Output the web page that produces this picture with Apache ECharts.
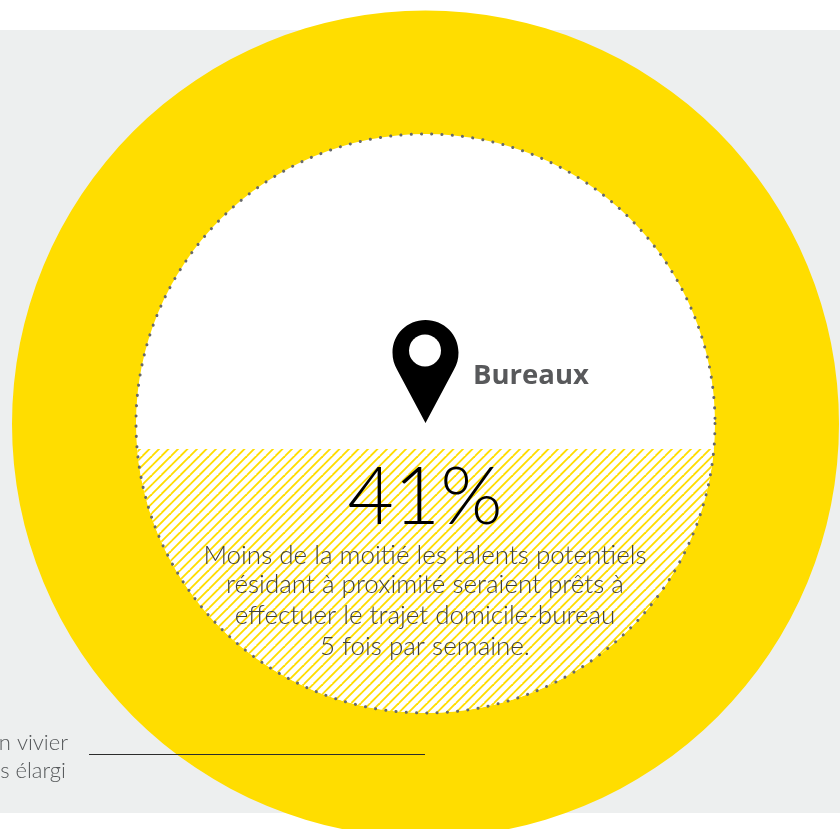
<!DOCTYPE html>
<html><head><meta charset="utf-8">
<style>html,body{margin:0;padding:0;background:#fff;overflow:hidden}#c{width:840px;height:829px}</style>
<script src="https://cdn.jsdelivr.net/npm/echarts@6/dist/echarts.min.js"></script>
</head><body><div id="c"></div>
<script>
const ringValues = [100];
const shareValue = [41];
const centerLabel = ['Bureaux'];
const bodyLines = ['Moins de la moitié les talents potentiels','résidant à proximité seraient prêts à','effectuer le trajet domicile-bureau','5 fois par semaine.'];
const sideLines = ['n vivier','s élargi'];

function hatch(){
  const s=19, c=document.createElement('canvas'); c.width=c.height=s;
  const g=c.getContext('2d'); g.fillStyle='#fff'; g.fillRect(0,0,s,s);
  g.strokeStyle='#ffdd00'; g.lineWidth=1.9;
  for(let k=-1;k<=4;k++){const o=k*s/2;g.beginPath();g.moveTo(o-s,s);g.lineTo(o+s,-s+0);g.stroke();}
  return c;
}
const pattern={image:hatch(),repeat:'repeat'};
const cx=425.5, cy=423.5, r=289.5, chordY=449;
const dx=Math.sqrt(r*r-(chordY-cy)*(chordY-cy));
const font='Lato, "Open Sans", sans-serif';
const chart=echarts.init(document.getElementById('c'),null,{renderer:'canvas'});
chart.setOption({
  animation:false,
  backgroundColor:'#fff',
  series:[
   {type:'pie',silent:true,center:[425.5,424],radius:[285,413.5],z:2,
    label:{show:false},labelLine:{show:false},
    itemStyle:{color:'#ffdd00',borderWidth:0},
    data:ringValues.map(v=>({value:v}))},
   {type:'custom',coordinateSystem:'none',silent:true,z:5,data:shareValue.map(v=>[v]),
    renderItem:function(){
      return {type:'group',children:[
        {type:'circle',shape:{cx,cy,r},style:{fill:'#fff'}},
        {type:'path',shape:{pathData:`M${cx-dx} ${chordY} L${cx+dx} ${chordY} A${r} ${r} 0 0 1 ${cx-dx} ${chordY} Z`,layout:'center',x:cx-dx,y:chordY,width:2*dx,height:cy+r-chordY},
          style:{fill:pattern}},
        {type:'circle',shape:{cx,cy,r},style:{fill:'none',stroke:'#66686a',lineWidth:3,lineDash:[0.1,10.2],lineCap:'round'}},
        {type:'path',shape:{pathData:'M425.5 320 C407 320 392.5 334.5 392.5 352.5 C392.5 359 394 364 397 369.5 L425.5 423 L454 369.5 C457 364 458.5 359 458.5 352.5 C458.5 334.5 444 320 425.5 320 Z',layout:'center',x:392.5,y:320,width:66,height:103},style:{fill:'#000'}},
        {type:'circle',shape:{cx:425,cy:350.5,r:16},style:{fill:'#fff'}}
      ]};
    }}
  ],
  graphic:{elements:[
    {type:'rect',z:-10,silent:true,shape:{x:0,y:30,width:840,height:783},style:{fill:'#edefef'}},
    {type:'text',z:14,silent:true,x:473,y:376,style:{text:centerLabel[0],fill:'#58595b',font:'700 27.5px "Open Sans", sans-serif',align:'left',verticalAlign:'middle'}},
    {type:'text',z:14,silent:true,x:425,y:498,style:{text:shareValue[0]+'%',fill:'#000',font:'300 80px '+font,align:'center',verticalAlign:'middle'}},
    ...bodyLines.map((t,i)=>({type:'text',z:14,silent:true,x:425,y:[556,585,616,647][i],style:{text:t,fill:'#3f3f3f',font:'300 26px '+font,align:'center',verticalAlign:'middle'}})),
    {type:'line',z:14,silent:true,shape:{x1:89,y1:754.5,x2:425,y2:754.5},style:{stroke:'#2c2c2c',lineWidth:1.2}},
    ...sideLines.map((t,i)=>({type:'text',z:14,silent:true,x:[68,66][i],y:[743,771][i],style:{text:t,fill:'#55585a',font:'300 22px '+font,align:'right',verticalAlign:'middle'}}))
  ]}
});
</script></body></html>
